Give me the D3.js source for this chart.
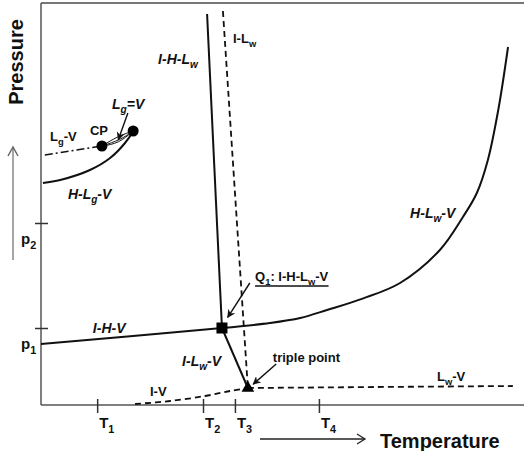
<!DOCTYPE html>
<html>
<head>
<meta charset="utf-8">
<script src="https://cdn.jsdelivr.net/npm/d3@7"></script>
<style>
  body { margin: 0; background: #fff; }
  svg { display: block; font-family: "Liberation Sans", Arial, sans-serif; }
  .lbl { font-weight: bold; fill: #111; }
</style>
</head>
<body>
<svg id="chart" width="524" height="451"></svg>
<script>
// temperature / pressure in arbitrary units (0-100)
const tempTicks = [11.7, 33.75, 40.4, 57.9];
const tempTickLabels = ["1", "2", "3", "4"];
const presTicks = [19.25, 45.5];
const presTickLabels = ["1", "2"];

const quadQ1 = [37.7, 19.25];
const triplePoint = [43.1, 4.25];
const critPoint = [12.7, 64.75];
const hlgvEnd = [19.2, 68.5];

const ihv = [[0, 15.25], [18, 17.1], [37.7, 19.25]];
const hlwv = [[37.7, 19.25], [47.7, 20.5], [54, 21.75], [59.6, 23.75], [67, 26.6], [74.8, 30.5],
  [83.1, 38.75], [87.9, 47], [90.8, 53], [93.1, 61.25], [95.3, 74], [97.3, 89.5]];
const ihlw = [[34.6, 97.75], [37.7, 19.25]];
const ilw = [[37.9, 98.5], [43.1, 4.25]];
const ilwv = [[37.7, 19.25], [43.1, 4.25]];
const lwv = [[43.1, 4.25], [70, 4.5], [98.3, 4.75]];
const iv = [[19.6, 0.25], [26.9, 1], [34.2, 2.25], [39.4, 3.5], [43.1, 4.25]];
const hlgv = [[0.4, 55.5], [4, 56.25], [10.2, 58.75], [14.4, 61.75], [17.5, 65.5], [19.2, 68.5]];
const lgv = [[0.8, 62.5], [12.7, 64.75]];
const lgEqV = [
  [[12.7, 64.75], [16.2, 65.4], [19.2, 68.5]],
  [[12.7, 64.75], [16.6, 66.3], [19.2, 68.5]],
  [[12.7, 64.75], [16.0, 67.2], [19.2, 68.5]]
];

const svg = d3.select("#chart");
const x = d3.scaleLinear().domain([0, 100]).range([41, 521]);
const y = d3.scaleLinear().domain([0, 100]).range([405, 5]);

const line = d3.line().x(d => x(d[0])).y(d => y(d[1]));
const smooth = d3.line().x(d => x(d[0])).y(d => y(d[1])).curve(d3.curveCatmullRom);
const bow = d3.line().x(d => x(d[0])).y(d => y(d[1])).curve(d3.curveBasis);

const defs = svg.append("defs");
defs.append("marker").attr("id", "arr")
  .attr("viewBox", "0 0 10 10").attr("refX", 9).attr("refY", 5)
  .attr("markerWidth", 6).attr("markerHeight", 6).attr("orient", "auto")
  .append("path").attr("d", "M0,0 L10,5 L0,10 L3,5 z").attr("fill", "#111");

// frame
svg.append("line").attr("x1", 41).attr("x2", 524).attr("y1", 3).attr("y2", 3)
  .attr("stroke", "#777").attr("stroke-width", 2);

const xAxis = svg.append("g").attr("transform", "translate(0,405)")
  .call(d3.axisBottom(x).tickValues(tempTicks).tickSize(7).tickFormat(""));
xAxis.select(".domain").attr("d", "M41,0H524").attr("stroke", "#555").attr("stroke-width", 1.5);
xAxis.selectAll(".tick line").attr("y1", -6).attr("y2", 8).attr("stroke", "#333").attr("stroke-width", 1.5);
xAxis.selectAll(".tick text").remove();

const yAxis = svg.append("g").attr("transform", "translate(41,0)")
  .call(d3.axisLeft(y).tickValues(presTicks).tickSize(6).tickFormat(""));
yAxis.select(".domain").attr("d", "M0,3V405").attr("stroke", "#555").attr("stroke-width", 1.5);
yAxis.selectAll(".tick line").attr("x1", -6).attr("x2", 7).attr("stroke", "#333").attr("stroke-width", 1.5);
yAxis.selectAll(".tick text").remove();

// text with subscripts: parts = [[text, isSub], ...]
function sub(sel, parts, size) {
  const shift = size * 0.3;
  let down = false;
  parts.forEach(p => {
    const ts = sel.append("tspan").text(p[0]);
    if (p[1]) {
      ts.attr("font-size", size * 0.72);
      if (!down) ts.attr("dy", shift);
      down = true;
    } else if (down) {
      ts.attr("dy", -shift);
      down = false;
    }
  });
  return sel;
}

// tick labels
tempTicks.forEach((t, i) => {
  const tx = svg.append("text").attr("class", "lbl").attr("x", x(t) + 2).attr("y", 428).attr("font-size", 15);
  sub(tx, [["T", 0], [tempTickLabels[i], 1]], 15);
});
presTicks.forEach((p, i) => {
  const tx = svg.append("text").attr("class", "lbl").attr("x", 21).attr("y", y(p) + 21).attr("font-size", 15);
  sub(tx, [["p", 0], [presTickLabels[i], 1]], 15);
});

// phase lines
const g = svg.append("g").attr("fill", "none").attr("stroke", "#111");
g.append("path").datum(ihv).attr("d", smooth).attr("stroke-width", 2);
g.append("path").datum(hlwv).attr("d", smooth).attr("stroke-width", 2);
g.append("path").datum(ihlw).attr("d", line).attr("stroke-width", 2);
g.append("path").datum(ilw).attr("d", line).attr("stroke-width", 1.8).attr("stroke-dasharray", "6,4");
g.append("path").datum(ilwv).attr("d", line).attr("stroke-width", 2);
g.append("path").datum(lwv).attr("d", line).attr("stroke-width", 1.8).attr("stroke-dasharray", "6,4");
g.append("path").datum(iv).attr("d", smooth).attr("stroke-width", 1.8).attr("stroke-dasharray", "6,4");
g.append("path").datum(hlgv).attr("d", smooth).attr("stroke-width", 2);
g.append("path").datum(lgv).attr("d", line).attr("stroke-width", 1.5).attr("stroke-dasharray", "8,3,2,3");
lgEqV.forEach(b => g.append("path").datum(b).attr("d", bow).attr("stroke-width", 1));

// special points
svg.append("rect").attr("x", x(quadQ1[0]) - 5.5).attr("y", y(quadQ1[1]) - 5.5)
  .attr("width", 11).attr("height", 11).attr("fill", "#000");
svg.append("path").attr("transform", `translate(${x(triplePoint[0])},${y(triplePoint[1])})`)
  .attr("d", d3.symbol(d3.symbolTriangle, 70)).attr("fill", "#000");
[critPoint, hlgvEnd].forEach(c => svg.append("circle").attr("cx", x(c[0])).attr("cy", y(c[1])).attr("r", 5.5).attr("fill", "#000"));

// annotations
const labels = [
  { at: [24.4, 85.25], parts: [["I-H-L", 0], ["w", 1]], size: 14, italic: true },
  { at: [40, 90.5], parts: [["I-L", 0], ["w", 1]], size: 13, italic: false, light: true },
  { at: [14.8, 74], parts: [["L", 0], ["g", 1], ["=V", 0]], size: 14, italic: true },
  { at: [10.2, 67.5], parts: [["CP", 0]], size: 13, italic: false },
  { at: [1.9, 66], parts: [["L", 0], ["g", 1], ["-V", 0]], size: 13, italic: false },
  { at: [5.6, 51.5], parts: [["H-L", 0], ["g", 1], ["-V", 0]], size: 14, italic: true },
  { at: [76.9, 46.75], parts: [["H-L", 0], ["w", 1], ["-V", 0]], size: 14, italic: true },
  { at: [44.6, 31], parts: [["Q", 0], ["1", 1], [": I-H-L", 0], ["w", 1], ["-V", 0]], size: 13, italic: false, underline: true },
  { at: [10.8, 18], parts: [["I-H-V", 0]], size: 14, italic: true },
  { at: [29.4, 9.75], parts: [["I-L", 0], ["w", 1], ["-V", 0]], size: 14, italic: true },
  { at: [48.3, 10.75], parts: [["triple point", 0]], size: 13, italic: false },
  { at: [82.5, 6], parts: [["L", 0], ["w", 1], ["-V", 0]], size: 13, italic: false, light: true },
  { at: [22.7, 2.25], parts: [["I-V", 0]], size: 13, italic: false, light: true }
];
labels.forEach(l => {
  const t = svg.append("text").attr("class", "lbl")
    .attr("x", x(l.at[0])).attr("y", y(l.at[1]))
    .attr("font-size", l.size)
    .attr("font-style", l.italic ? "italic" : "normal");
  if (l.light) t.attr("fill", "#222");
  sub(t, l.parts, l.size);
  if (l.underline) {
    const bb = t.node().getBBox();
    svg.append("line").attr("x1", bb.x).attr("x2", bb.x + bb.width)
      .attr("y1", y(l.at[1]) + 5).attr("y2", y(l.at[1]) + 5)
      .attr("stroke", "#111").attr("stroke-width", 1.5);
  }
});

const pointers = [
  [[43.5, 30.5], [38.9, 21.9]],
  [[18.1, 73], [16.1, 66.3]],
  [[49, 10.25], [44.2, 5.2]]
];
pointers.forEach(p => svg.append("path").datum(p).attr("d", line)
  .attr("stroke", "#111").attr("stroke-width", 1.4).attr("fill", "none").attr("marker-end", "url(#arr)"));

// axis titles
svg.append("text").attr("class", "lbl").attr("font-size", 20)
  .attr("x", 380).attr("y", 448).text("Temperature");
svg.append("text").attr("class", "lbl").attr("font-size", 20)
  .attr("transform", "translate(23,62) rotate(-90)").attr("text-anchor", "middle").text("Pressure");

svg.append("line").attr("x1", 260).attr("x2", 365).attr("y1", 439).attr("y2", 439)
  .attr("stroke", "#222").attr("stroke-width", 1.3);
svg.append("path").attr("d", "M357,434 L365,439 L357,444").attr("fill", "none")
  .attr("stroke", "#222").attr("stroke-width", 1.3);
svg.append("line").attr("x1", 13).attr("x2", 13).attr("y1", 260).attr("y2", 147)
  .attr("stroke", "#888").attr("stroke-width", 1.5);
svg.append("path").attr("d", "M8,156 L13,147 L18,156").attr("fill", "none")
  .attr("stroke", "#666").attr("stroke-width", 1.5);
</script>
</body>
</html>
